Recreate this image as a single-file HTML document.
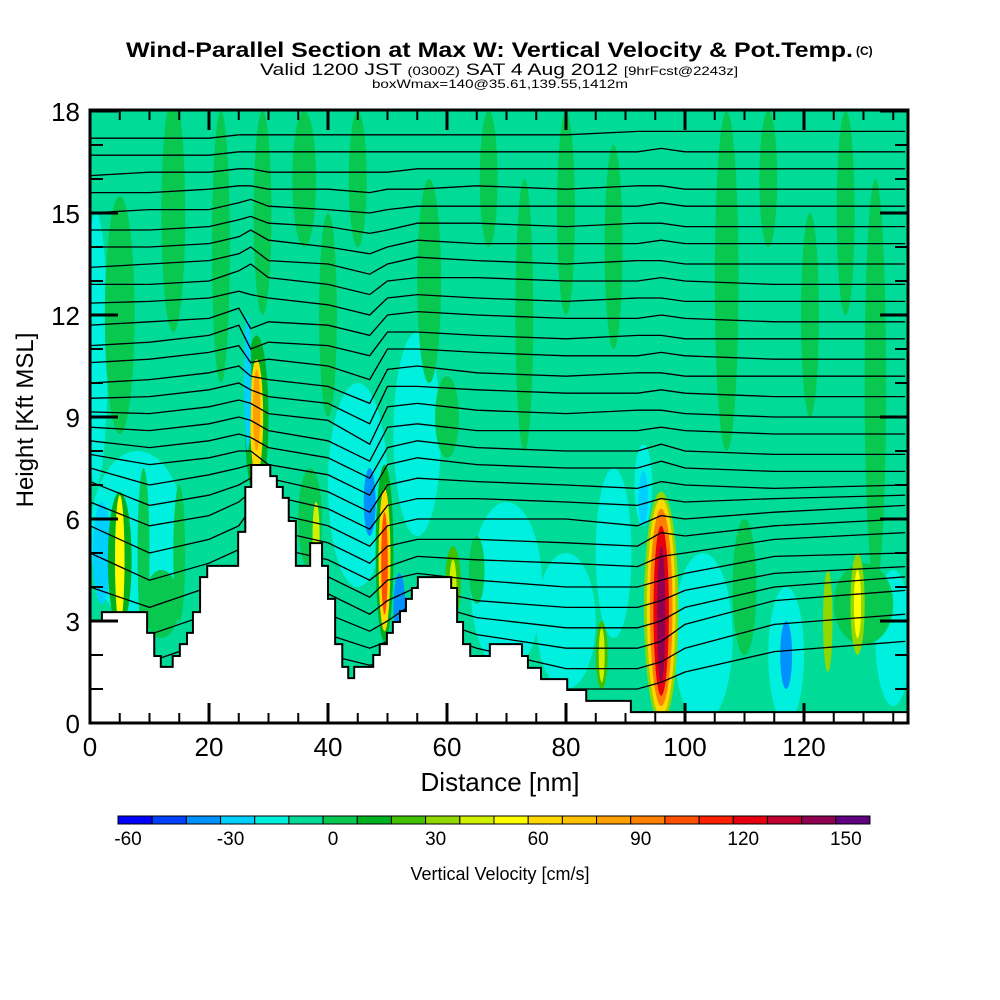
<!DOCTYPE html>
<html><head><meta charset="utf-8"><style>
html,body{margin:0;padding:0;background:#fff;}
svg{display:block;font-family:"Liberation Sans",sans-serif;}
</style></head><body>
<svg id="chart" width="1000" height="1000" viewBox="0 0 1000 1000" xmlns="http://www.w3.org/2000/svg">
<defs><clipPath id="plotclip"><rect x="90" y="110" width="818" height="613"/></clipPath></defs>
<g>
<text x="126" y="57" font-size="21" font-weight="bold" textLength="727" lengthAdjust="spacingAndGlyphs">Wind-Parallel Section at Max W: Vertical Velocity &amp; Pot.Temp.</text>
<text x="856" y="55" font-size="12" font-weight="bold">(C)</text>
<text x="260" y="75" font-size="17" textLength="478" lengthAdjust="spacingAndGlyphs">Valid 1200 JST <tspan font-size="12">(0300Z)</tspan> SAT 4 Aug 2012 <tspan font-size="12">[9hrFcst@2243z]</tspan></text>
<text x="372" y="88" font-size="12" textLength="256" lengthAdjust="spacingAndGlyphs">boxWmax=140@35.61,139.55,1412m</text>
</g>
<g id="field" clip-path="url(#plotclip)"></g>
<g id="isentropes" clip-path="url(#plotclip)"></g>
<g id="terrain"></g>
<g id="axes"></g>
<g id="colorbar"></g>
<text transform="translate(33,420) rotate(-90)" text-anchor="middle" font-size="24">Height [Kft MSL]</text>
<text x="500" y="791" text-anchor="middle" font-size="26">Distance [nm]</text>
<text x="500" y="880" text-anchor="middle" font-size="18">Vertical Velocity [cm/s]</text>
</svg>
<script>
// colour scale bins (-60..160 step 10)
const cbValues = [-60,-50,-40,-30,-20,-10,0,10,20,30,40,50,60,70,80,90,100,110,120,130,140,150];
const cbColors = ["#0000ff","#0040ff","#0090ff","#00d0ff","#00f0e0","#00dc98","#08c850","#00b020","#40c000","#90d800","#d0f000","#ffff00","#ffd800","#ffc000","#ffa000","#ff8000","#ff5000","#ff2000","#e80010","#c00030","#900050","#600080"];
const cbLabels = [-60,-30,0,30,60,90,120,150];
// velocity field features
const bgValue = -5;
const blobX = [1,8,2,45,55,70,80,88,103,117,135,93, 5,14,22,29,36,40,57,45,67,73,80,88,107,114,121,127,132,60,37, 5,5,9,15,28,28,28,26.5,47,49.5,49.5,49.5,52,61,61,65,86,86,12,110,130,124,129,129,96,96,96,96,96,93,117,38];
const blobY = [11,5.5,5,7,8.5,4,3,5,2.5,2,2.5,7, 12,15,14,15,16,12,13,16,16,12,15,14,13,16,12,15,10,9,6, 4.8,4.8,5,5,9,9,9.2,10,6.5,5,4.8,4.7,3.4,4.1,4,4.5,2,2,3.5,4,3.5,3,3.5,3.5,3.4,3.4,3.4,3.3,3.2,6.6,2,5.5];
const blobW = [2,8,1.5,5,4,6,5,3,5,3,3,1.5, 2.5,2,1.5,1.5,2,1.5,2,1.5,1.5,1.5,1.5,1.5,2,1.5,1.5,1.5,1.8,2,2, 2,0.8,1,1,2,1.1,0.6,0.6,1,1.5,1.0,0.55,1,1.3,0.6,1.3,1,0.5,3,2,5,0.8,1.2,0.6,2.9,2.4,1.9,1.3,0.7,0.8,1,0.6];
const blobH = [4,2.5,1.5,3,3,2.5,2,2.5,2.5,2,2,1.2, 3.5,3.5,4,3,2,3,3,2,2,4,3,3,5,2,3,3,6,1.2,1.5, 2,1.9,2.5,2,2.4,1.7,1.2,2,1,2.6,2.1,1.5,1,1.1,0.8,1,1,0.8,1,2,1.2,1.5,1.5,1,3.4,3.2,2.9,2.5,2.0,0.8,1,1];
const blobV = [-15,-15,-25,-15,-15,-15,-15,-15,-15,-15,-15,-20, 5,5,5,5,5,5,5,5,5,5,5,5,5,5,5,5,5,5,5, 10,50,5,5,10,60,85,-30,-35,15,60,100,-40,25,45,5,20,40,5,5,5,35,30,55,30,60,90,120,145,-30,-35,40];
// isentropes (kft at xs nm)
const thetaXs = [0,10,20,25,27,30,40,47,50,55,65,80,92,96,100,115,137];
const thetaLines = [
[17.2,17.2,17.2,17.3,17.3,17.3,17.3,17.3,17.3,17.3,17.3,17.3,17.4,17.4,17.4,17.4,17.4],
[16.7,16.7,16.7,16.8,16.8,16.8,16.8,16.8,16.8,16.8,16.8,16.8,16.8,16.9,16.8,16.8,16.8],
[16.1,16.2,16.2,16.3,16.3,16.2,16.2,16.2,16.2,16.3,16.3,16.3,16.3,16.3,16.3,16.3,16.3],
[15.6,15.6,15.7,15.8,15.8,15.7,15.7,15.6,15.7,15.7,15.8,15.7,15.8,15.8,15.7,15.7,15.7],
[15.0,15.1,15.1,15.3,15.4,15.2,15.1,15.0,15.1,15.2,15.2,15.2,15.2,15.3,15.2,15.2,15.2],
[14.5,14.5,14.6,14.8,14.9,14.7,14.6,14.4,14.5,14.7,14.7,14.6,14.7,14.7,14.6,14.6,14.6],
[14.0,14.0,14.1,14.3,14.5,14.2,14.0,13.8,14.0,14.2,14.1,14.1,14.1,14.2,14.1,14.1,14.1],
[13.4,13.5,13.6,13.8,14.0,13.6,13.5,13.2,13.5,13.7,13.6,13.5,13.6,13.6,13.5,13.5,13.5],
[12.9,12.9,13.0,13.3,13.5,13.1,12.9,12.6,13.0,13.1,13.1,13.0,13.0,13.1,13.0,12.9,12.9],
[12.35,12.4,12.5,12.7,12.6,12.5,12.3,12.0,12.5,12.6,12.5,12.4,12.5,12.5,12.4,12.4,12.4],
[11.7,11.8,11.9,12.2,11.6,11.8,11.7,11.4,12.0,12.1,12.0,11.9,11.9,12.0,11.9,11.8,11.8],
[11.1,11.2,11.4,11.7,11.0,11.2,11.1,10.8,11.5,11.5,11.4,11.3,11.4,11.4,11.3,11.3,11.3],
[10.6,10.7,10.9,11.1,10.6,10.7,10.5,10.1,11.0,11.0,10.9,10.8,10.8,10.9,10.8,10.7,10.7],
[10.0,10.1,10.3,10.5,10.2,10.1,9.9,9.4,10.4,10.5,10.3,10.2,10.3,10.3,10.2,10.2,10.2],
[9.55,9.6,9.8,10.0,9.8,9.6,9.4,8.8,9.9,9.9,9.8,9.7,9.7,9.8,9.7,9.6,9.6],
[9.15,9.1,9.3,9.5,9.4,9.1,8.9,8.2,9.3,9.4,9.2,9.1,9.2,9.2,9.1,9.0,9.0],
[8.7,8.6,8.8,9.0,8.9,8.6,8.3,7.7,8.7,8.8,8.6,8.6,8.6,8.7,8.6,8.5,8.5],
[8.3,8.1,8.3,8.5,8.4,8.1,7.8,7.2,8.1,8.3,8.1,8.0,8.0,8.2,8.0,7.9,7.9],
[7.9,7.6,7.8,8.0,8.0,7.6,7.3,6.7,7.6,7.8,7.6,7.5,7.5,7.7,7.5,7.4,7.4],
[7.5,7.0,7.3,7.5,7.6,7.2,6.8,6.2,7.0,7.2,7.1,7.0,6.9,7.1,7.0,6.9,7.0],
[7.1,6.4,6.7,7.0,7.2,6.7,6.3,5.7,6.4,6.6,6.6,6.5,6.4,6.6,6.5,6.6,6.7],
[6.5,5.8,6.1,6.5,6.8,6.2,5.8,5.2,5.8,6.0,6.0,6.0,5.8,6.1,6.0,6.2,6.4],
[5.8,5.0,5.4,5.8,6.3,5.7,5.3,4.7,5.2,5.4,5.4,5.3,5.2,5.6,5.5,5.8,6.0],
[5.0,4.2,4.7,5.1,5.8,5.2,4.8,4.2,4.6,4.9,4.8,4.7,4.6,4.9,5.0,5.4,5.6],
[4.0,3.4,4.0,4.5,5.2,4.7,4.3,3.7,4.2,4.4,4.2,4.0,4.0,4.2,4.4,4.9,5.0],
[3.0,2.6,3.2,3.8,4.6,4.2,3.8,3.2,3.6,4.0,3.6,3.4,3.4,3.6,3.9,4.4,4.6],
[2.0,1.8,2.4,3.1,4.0,3.6,3.2,2.7,3.0,3.6,3.1,2.8,2.8,3.0,3.4,4.0,4.3],
[1.0,1.0,1.6,2.4,3.4,3.0,2.6,2.2,2.4,3.2,2.6,2.2,2.2,2.4,2.9,3.6,3.9],
[0,0,0.8,1.6,2.8,2.4,2.0,1.7,1.8,2.8,2.2,1.6,1.6,1.8,2.2,2.9,3.2],
[0,0,0,0.8,2.0,1.8,1.4,1.2,1.2,2.2,1.6,1.0,1.0,1.2,1.5,2.1,2.4]
];
// terrain step profile
const terrainNm = [0,2.0,9.6,10.8,11.9,13.9,15.1,16.3,17.3,18.5,19.7,24.9,26.1,27.1,30.3,31.4,32.4,33.4,34.6,37.0,39.0,40.0,41.2,42.4,43.4,44.4,47.6,48.7,49.9,50.9,52.1,53.1,54.1,55.1,60.7,61.7,62.7,63.9,67.2,72.6,73.6,75.8,80.2,83.4,90.9];
const terrainKft = [3.0,3.26,2.65,1.97,1.65,1.97,2.32,2.65,3.26,4.29,4.62,5.62,6.94,7.59,7.26,6.94,6.62,5.94,4.62,5.29,4.62,3.65,2.32,1.65,1.32,1.65,2.0,2.32,2.65,2.97,3.29,3.65,3.97,4.29,3.97,2.97,2.32,1.97,2.32,1.97,1.62,1.29,0.97,0.65,0.32];
const xTicks = [0,20,40,60,80,100,120];
const yTicks = [0,3,6,9,12,15,18];
const xMaxNm = 137.5;

const NS="http://www.w3.org/2000/svg";
const X = nm => 90 + nm*5.95;
const Y = k => 723 - k*34.0;
function mk(tag, attrs, parent){const e=document.createElementNS(NS,tag);for(const k in attrs)e.setAttribute(k,attrs[k]);parent.appendChild(e);return e;}
function colorFor(v){let i=Math.floor((v+60)/10);i=Math.max(0,Math.min(cbColors.length-1,i));return cbColors[i];}

const field=document.getElementById('field');
const bgRect=mk('rect',{x:90,y:110,width:818,height:613,fill:colorFor(bgValue)},field);


for(let i=0;i<blobX.length;i++){
  const e=mk('ellipse',{cx:X(blobX[i]),cy:Y(blobY[i]),rx:blobW[i]*5.95,ry:blobH[i]*34,fill:colorFor(blobV[i])},field);
  
  
}
const iso=document.getElementById('isentropes');
thetaLines.forEach((ln)=>{
  const pts=ln.map((k,j)=>X(thetaXs[j]).toFixed(1)+','+Y(k).toFixed(1)).join(' ');
  const p=mk('polyline',{points:pts,fill:'none',stroke:'#000','stroke-width':1.3},iso);
  
  
});
// terrain
const ter=document.getElementById('terrain');
let terrainPath='M'+X(0)+','+Y(0);
let terrainTop='';
for(let i=0;i<terrainNm.length;i++){
  const x0=X(terrainNm[i]);const x1=X(i+1<terrainNm.length?terrainNm[i+1]:xMaxNm);const yy=Y(terrainKft[i]);
  terrainPath+=' L'+x0+','+yy+' L'+x1+','+yy;
  terrainTop+=(i===0?'M':' L')+x0+','+yy+' L'+x1+','+yy;
}
terrainPath+=' L'+X(xMaxNm)+','+Y(0)+' Z';
const tf=mk('path',{d:terrainPath,fill:'#fff'},ter);


const to=mk('path',{d:terrainTop,fill:'none',stroke:'#000','stroke-width':2},ter);


// axes
const ax=document.getElementById('axes');
const fr=mk('rect',{x:90,y:110,width:818,height:613,fill:'none',stroke:'#000','stroke-width':3},ax);


for(let nm=0;nm<=135;nm+=5){
  const maj=nm%20===0;const L=maj?20:10;
  const t1=mk('line',{x1:X(nm),x2:X(nm),y1:723,y2:723-L,stroke:'#000','stroke-width':maj?3:2},ax);
  
  
  const t2=mk('line',{x1:X(nm),x2:X(nm),y1:110,y2:110+L,stroke:'#000','stroke-width':maj?3:2},ax);
  
  
}
for(let k=0;k<=18;k+=1){
  const maj=k%3===0;const L=maj?28:13;
  const t1=mk('line',{x1:90,x2:90+L,y1:Y(k),y2:Y(k),stroke:'#000','stroke-width':maj?3:2},ax);
  
  
  const t2=mk('line',{x1:908,x2:908-L,y1:Y(k),y2:Y(k),stroke:'#000','stroke-width':maj?3:2},ax);
  
  
}
xTicks.forEach(v=>{
  const t=mk('text',{x:X(v),y:756,'text-anchor':'middle','font-size':26},ax);
  t.textContent=v;
  
  
});
yTicks.forEach(v=>{
  const t=mk('text',{x:80,y:Y(v)+10,'text-anchor':'end','font-size':26},ax);
  t.textContent=v;
  
  
});
// colorbar
const cb=document.getElementById('colorbar');
const bw=752/cbValues.length;
cbValues.forEach((v,i)=>{
  const r=mk('rect',{x:118+i*bw,y:816,width:bw,height:8,fill:cbColors[i],stroke:'#000','stroke-width':1},cb);
  
  
});
cbLabels.forEach(v=>{
  const t=mk('text',{x:128+(v+60)/10*bw,y:845,'text-anchor':'middle','font-size':19},cb);
  t.textContent=v;
  
  
});
</script>
</body></html>
